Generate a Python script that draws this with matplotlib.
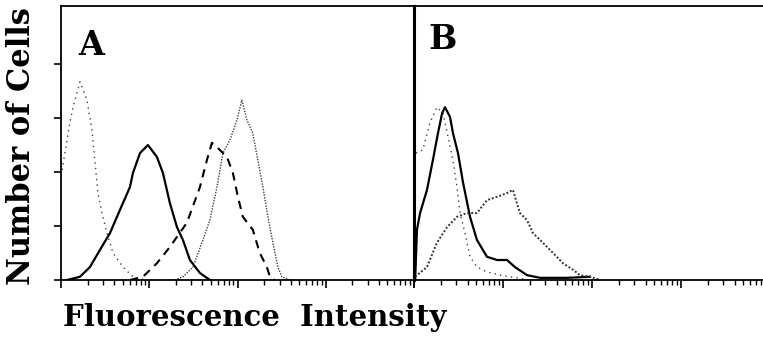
import numpy as np
import matplotlib.pyplot as plt
from matplotlib.ticker import LogLocator, NullFormatter, FixedLocator

# panel A: intensity (log channel) vs relative cell number
a_ctrl_x = [1.03, 1.26, 1.37, 1.64, 1.97, 2.24, 2.43, 2.62, 2.91, 3.32, 3.88, 5.04, 6.53, 8.94]
a_ctrl_y = [2.04, 2.91, 3.20, 3.67, 3.33, 2.78, 2.17, 1.61, 1.24, 0.87, 0.50, 0.24, 0.06, 0.0]

a_solid_x = [1.17, 1.64, 2.13, 2.77, 3.59, 4.66, 6.04, 6.53, 7.85, 9.66, 12.2, 14.3, 17.1, 20.6, 24.1, 28.9, 37.5, 48.6]
a_solid_y = [0.0, 0.06, 0.24, 0.56, 0.87, 1.30, 1.72, 1.98, 2.35, 2.50, 2.28, 1.98, 1.43, 0.98, 0.74, 0.37, 0.13, 0.0]

a_dash_x = [6.04, 8.49, 12.2, 17.1, 26.7, 37.5, 45.0, 51.3, 58.5, 75.9, 88.7, 101, 115, 149, 179, 215, 233, 265]
a_dash_y = [0.0, 0.06, 0.31, 0.61, 1.06, 1.72, 2.22, 2.54, 2.46, 2.28, 1.98, 1.54, 1.17, 0.93, 0.50, 0.24, 0.06, 0.0]

a_dot_x = [19.5, 24.1, 31.3, 40.6, 48.6, 58.5, 68.4, 82.0, 98.4, 112, 128, 149, 170, 194, 221, 252, 287, 318, 392]
a_dot_y = [0.0, 0.06, 0.24, 0.74, 1.11, 1.72, 2.35, 2.59, 2.96, 3.33, 2.96, 2.72, 2.22, 1.72, 1.17, 0.69, 0.24, 0.06, 0.0]

# panel B
b_solid_x = [1.03, 1.08, 1.17, 1.40, 1.63, 1.86, 2.07, 2.23, 2.54, 2.74, 3.12, 3.56, 4.26, 5.10, 6.61, 8.57, 11.1, 13.6, 18.6, 26.1, 52.4, 95]
b_solid_y = [0.0, 0.93, 1.24, 1.67, 2.22, 2.72, 3.09, 3.20, 3.02, 2.72, 2.35, 1.80, 1.17, 0.74, 0.43, 0.37, 0.37, 0.24, 0.09, 0.04, 0.04, 0.06]

b_ctrl_x = [1.05, 1.26, 1.51, 1.81, 2.12, 2.41, 2.74, 3.04, 3.29, 3.74, 4.26, 5.10, 6.61, 9.25, 14.4, 20.1]
b_ctrl_y = [2.35, 2.41, 2.91, 3.20, 3.09, 2.65, 2.22, 1.72, 1.24, 0.87, 0.43, 0.24, 0.15, 0.09, 0.04, 0.0]

b_broad_x = [1.03, 1.40, 1.81, 2.35, 3.04, 3.94, 5.10, 6.61, 8.57, 11.1, 12.9, 15.5, 18.6, 21.7, 28.1, 36.5, 47.2, 61.2, 73.3, 95, 123]
b_broad_y = [0.06, 0.24, 0.69, 0.98, 1.17, 1.24, 1.24, 1.48, 1.54, 1.61, 1.67, 1.24, 1.11, 0.87, 0.69, 0.50, 0.31, 0.19, 0.09, 0.06, 0.0]

y_ticks = [0, 1, 2, 3, 4]

font = dict(family='DejaVu Serif', weight='bold')

fig = plt.figure(figsize=(7.63, 3.40), dpi=100)
ax_a = fig.add_axes([61/763, 60/340, 353/763, 274/340])
ax_b = fig.add_axes([414/763, 60/340, 349/763, 274/340])

def style_axis(ax, xmax):
    ax.set_xscale('log')
    ax.set_xlim(1, xmax)
    ax.set_ylim(0, 274/54)
    ax.xaxis.set_major_locator(LogLocator(base=10, numticks=10))
    ax.xaxis.set_minor_locator(LogLocator(base=10, subs=np.arange(2, 10), numticks=50))
    ax.xaxis.set_major_formatter(NullFormatter())
    ax.xaxis.set_minor_formatter(NullFormatter())
    ax.tick_params(axis='x', which='major', direction='out', length=6, width=1.2)
    ax.tick_params(axis='x', which='minor', direction='out', length=3.5, width=1.0)
    for s in ax.spines.values():
        s.set_linewidth(1.3)

style_axis(ax_a, 1e4)
ax_a.yaxis.set_major_locator(FixedLocator(y_ticks))
ax_a.set_yticklabels([])
ax_a.tick_params(axis='y', direction='out', length=5, width=1.2)
ax_a.spines['right'].set_linewidth(2.2)

style_axis(ax_b, 10 ** (349/89))
ax_b.set_yticks([])
ax_b.spines['left'].set_linewidth(2.2)
ax_b.spines['right'].set_visible(False)

# panel A curves
ax_a.plot(a_ctrl_x, a_ctrl_y, color='0.25', lw=1.0, ls=(0, (1, 3)))
ax_a.plot(a_solid_x, a_solid_y, color='black', lw=1.6)
ax_a.plot(a_dash_x, a_dash_y, color='black', lw=1.5, ls=(0, (4, 3)))
ax_a.plot(a_dot_x, a_dot_y, color='0.25', lw=1.0, ls=(0, (1, 1)))

# panel B curves
ax_b.plot(b_ctrl_x, b_ctrl_y, color='0.25', lw=1.0, ls=(0, (1, 3)))
ax_b.plot(b_solid_x, b_solid_y, color='black', lw=1.6)
ax_b.plot(b_broad_x, b_broad_y, color='0.2', lw=1.4, ls=(0, (1, 1)))

ax_a.text(0.085, 0.855, 'A', transform=ax_a.transAxes, ha='center', va='center', fontsize=24, **font)
ax_b.text(0.083, 0.877, 'B', transform=ax_b.transAxes, ha='center', va='center', fontsize=24, **font)

fig.text(22/763, 1 - 146/340, 'Number of Cells', rotation=90, ha='center', va='center', fontsize=22, **font)
fig.text(255/763, 1 - 318/340, 'Fluorescence  Intensity', ha='center', va='center', fontsize=21, **font)

fig.savefig('out.png', dpi=100)
